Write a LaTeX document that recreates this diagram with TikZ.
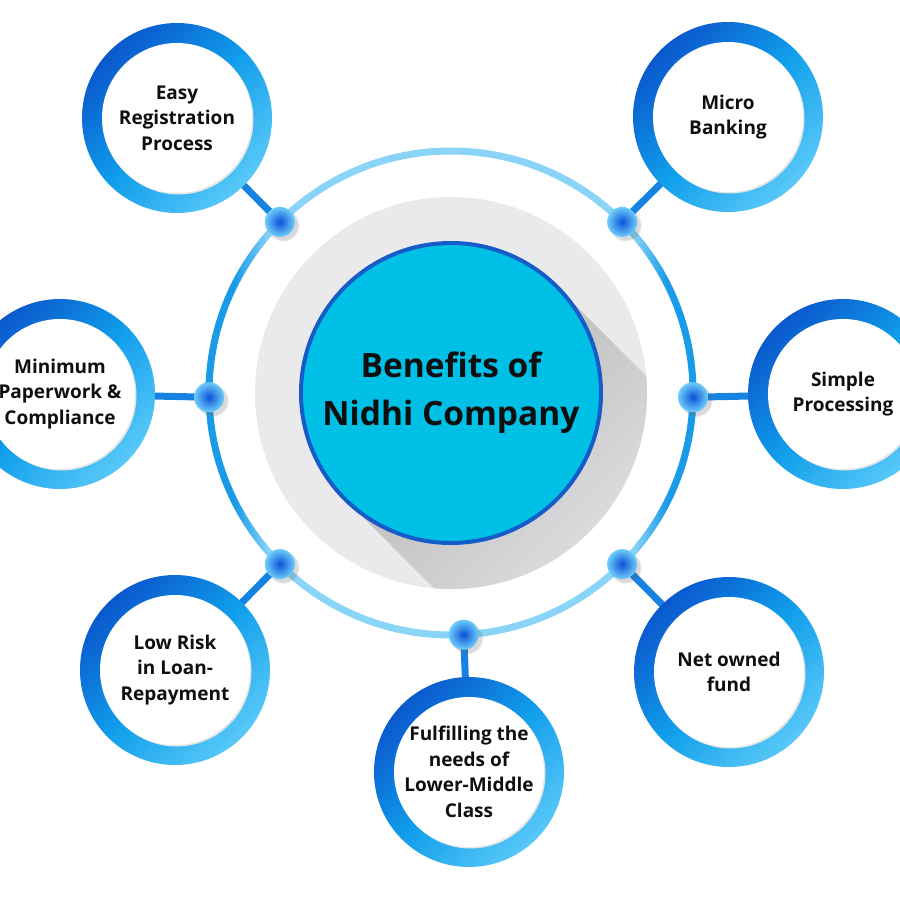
\documentclass[tikz,border=0pt]{standalone}
\usepackage{fontspec}
\setmainfont{Open Sans}
\usetikzlibrary{calc,shadows,backgrounds}

\definecolor{ringdark}{RGB}{10,88,205}
\definecolor{ringmid}{RGB}{16,158,235}
\definecolor{ringlight}{RGB}{88,200,248}
\definecolor{hubfill}{RGB}{0,192,230}
\definecolor{hubedge}{RGB}{22,92,200}
\definecolor{halo}{RGB}{234,234,237}
\definecolor{orbitblue}{RGB}{26,155,232}
\definecolor{orbitpale}{RGB}{138,212,248}
\definecolor{dotcore}{RGB}{12,82,215}
\definecolor{dotedge}{RGB}{110,205,250}
\definecolor{linkblue}{RGB}{22,130,225}
\definecolor{ink}{RGB}{15,15,15}

\pgfdeclarehorizontalshading{orbitshade}{100bp}{color(0bp)=(orbitblue); color(28bp)=(orbitblue); color(31.5bp)=(orbitpale); color(68.5bp)=(orbitpale); color(72bp)=(orbitblue); color(100bp)=(orbitblue)}

\begin{document}
\begin{tikzpicture}[x=1pt, y=-1pt,
    benefit/.style={circle, minimum size=190pt, inner sep=0pt, top color=ringdark, bottom color=ringlight, middle color=ringmid, shading angle=45,
        align=center, text=ink, font=\fontsize{19}{25.5}\selectfont\bfseries,
        path picture={
            \fill[black!10] ([shift={(1.5pt,-1.5pt)}]path picture bounding box.center) circle (75pt);
            \fill[white] (path picture bounding box.center) circle (75pt);}},
    hub/.style={circle, minimum size=300pt, fill=hubfill, draw=hubedge, line width=4pt, align=center, text=ink, font=\fontsize{33.5}{48}\selectfont\bfseries},
    knob/.style={circle, minimum size=30pt, inner sep=0pt, inner color=dotcore, outer color=dotedge,
        circular drop shadow={shadow xshift=3pt, shadow yshift=-3pt, opacity=.25, fill=black!60}},
    link/.style={line width=7pt, draw=linkblue, shorten <=-4pt, shorten >=-4pt}
]
    \useasboundingbox (0,0) rectangle (900,900);
    \coordinate (ctr) at (451,393);

    % halo and long shadow
    \fill[halo] (ctr) circle (196pt);
    \begin{scope}
        \clip (ctr) circle (196pt);
        \shade[top color=black!30, bottom color=halo, shading angle=45]
            ($(ctr)+(45:150pt)$) -- ($(ctr)+(45:150pt)+(-45:230pt)$)
            -- ($(ctr)+(225:150pt)+(-45:230pt)$) -- ($(ctr)+(225:150pt)$) -- cycle;
    \end{scope}

    % orbit
    \shade[even odd rule, shading=orbitshade] (ctr) circle (245.5pt) circle (238.5pt);

    % centre
    \node[hub] (hub) at (ctr) {Benefits of\\Nidhi Company};

    % knobs on the orbit
    \node[knob] (dEasy)   at ($(ctr)+(135:242pt)$) {};
    \node[knob] (dMicro)  at ($(ctr)+(45:242pt)$) {};
    \node[knob] (dPaper)  at ($(ctr)+(181:242pt)$) {};
    \node[knob] (dSimple) at ($(ctr)+(-1:242pt)$) {};
    \node[knob] (dRisk)   at ($(ctr)+(225:242pt)$) {};
    \node[knob] (dFund)   at ($(ctr)+(-45:242pt)$) {};
    \node[knob] (dClass)  at ($(ctr)+(-87:242pt)$) {};

    % benefits
    \node[benefit] (easy)     at (177,118) {Easy\\Registration\\Process};
    \node[benefit] (micro)    at (728,117) {Micro\\Banking};
    \node[benefit] (paper)    at (60,394)  {Minimum\\Paperwork \&\\Compliance};
    \node[benefit] (simple)   at (843,394) {Simple\\Processing};
    \node[benefit] (risk)     at (175,670) {Low Risk\\in Loan-\\Repayment};
    \node[benefit] (fund)     at (729,672) {Net owned\\fund};
    \node[benefit] (lowclass) at (469,772) {Fulfilling the\\needs of\\Lower-Middle\\Class};

    % links
    \begin{scope}[on background layer]
        \draw[link] (dEasy) -- (easy);
        \draw[link] (dMicro) -- (micro);
        \draw[link] (dPaper) -- (paper);
        \draw[link] (dSimple) -- (simple);
        \draw[link] (dRisk) -- (risk);
        \draw[link] (dFund) -- (fund);
        \draw[link] (dClass) -- (lowclass);
    \end{scope}
\end{tikzpicture}
\end{document}
